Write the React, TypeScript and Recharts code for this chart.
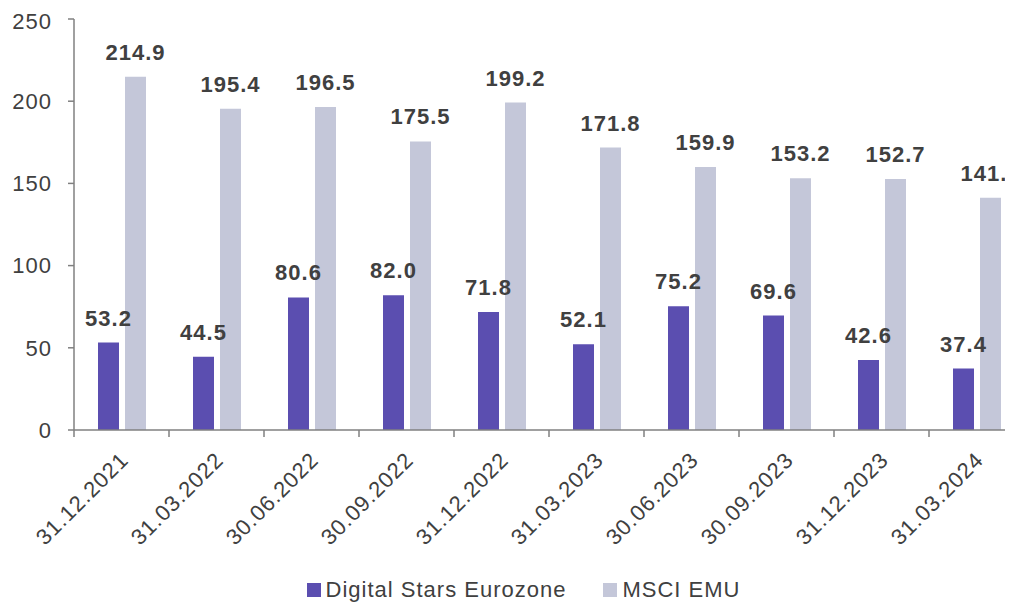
import React from 'react';
import { BarChart, Bar, XAxis, YAxis, Legend, LabelList } from 'recharts';

const dates = [
  '31.12.2021', '31.03.2022', '30.06.2022', '30.09.2022', '31.12.2022',
  '31.03.2023', '30.06.2023', '30.09.2023', '31.12.2023', '31.03.2024',
];
const digitalStars = [53.2, 44.5, 80.6, 82.0, 71.8, 52.1, 75.2, 69.6, 42.6, 37.4];
const msciEmu = [214.9, 195.4, 196.5, 175.5, 199.2, 171.8, 159.9, 153.2, 152.7, 141.2];
const yTicks = [0, 50, 100, 150, 200, 250];

const data = dates.map((date, i) => ({ date, digital: digitalStars[i], msci: msciEmu[i] }));

const CHART_W = 1040;
const CHART_H = 597;
const M_TOP = 11;
const M_RIGHT = 24;
const Y_W = 66;
const LEGEND_H = 40;
const X_H = 135;
const PLOT_BOTTOM = CHART_H - LEGEND_H - X_H;
const BAND = (CHART_W - M_RIGHT - Y_W) / dates.length;

const FONT = '"Liberation Sans", Arial, sans-serif';
const TEXT = '#404040';
const AXIS = '#808080';
const DARK = '#5B4EB0';
const LIGHT = '#C4C7D9';

const DateTick = (props: any) => {
  const { x, payload } = props;
  const left = x - BAND / 2;
  const ax = x - 3;
  const ay = PLOT_BOTTOM + 20;
  return (
    <g>
      <line x1={left} y1={PLOT_BOTTOM} x2={left} y2={PLOT_BOTTOM + 7} stroke={AXIS} strokeWidth={1.5} />
      <text
        x={ax}
        y={ay}
        textAnchor="end"
        dominantBaseline="hanging"
        transform={`rotate(-45 ${ax} ${ay})`}
        fill={TEXT}
        fontSize={22}
        letterSpacing={1}
        fontFamily={FONT}
      >
        {payload.value}
      </text>
    </g>
  );
};

const LegendContent = () => (
  <div
    style={{
      display: 'flex',
      justifyContent: 'center',
      alignItems: 'center',
      gap: 37,
      height: 30,
      paddingTop: 10,
      paddingLeft: 15,
      fontFamily: FONT,
      fontSize: 22,
      letterSpacing: 1,
      color: TEXT,
    }}
  >
    {[
      { name: 'Digital Stars Eurozone', color: DARK },
      { name: 'MSCI EMU', color: LIGHT },
    ].map((item) => (
      <div key={item.name} style={{ display: 'flex', alignItems: 'center' }}>
        <span style={{ display: 'inline-block', width: 14, height: 14, background: item.color, marginRight: 5 }} />
        {item.name}
      </div>
    ))}
  </div>
);

const labelStyle = { fill: TEXT, fontSize: 22, fontWeight: 'bold', fontFamily: FONT, letterSpacing: 1 };

const App = () => {
  return (
    <div style={{ width: 1005, height: CHART_H, overflow: 'hidden' }}>
      <BarChart
        width={CHART_W}
        height={CHART_H}
        data={data}
        margin={{ top: M_TOP, right: M_RIGHT, left: 0, bottom: 0 }}
        barSize={21}
        barGap={6}
      >
        <XAxis
          dataKey="date"
          height={X_H}
          axisLine={{ stroke: AXIS, strokeWidth: 1.5 }}
          tickLine={false}
          tick={<DateTick />}
          interval={0}
        />
        <YAxis
          width={Y_W}
          domain={[0, 250]}
          ticks={yTicks}
          axisLine={{ stroke: AXIS, strokeWidth: 1.5 }}
          tickLine={{ stroke: AXIS, strokeWidth: 1.5 }}
          tickSize={6}
          tickMargin={16}
          tick={{ fill: TEXT, fontSize: 22, fontFamily: FONT, letterSpacing: 1 }}
        />
        <Legend verticalAlign="bottom" height={LEGEND_H} content={<LegendContent />} />
        <Bar dataKey="digital" name="Digital Stars Eurozone" fill={DARK} isAnimationActive={false}>
          <LabelList
            dataKey="digital"
            position="top"
            offset={17}
            formatter={(v: any) => Number(v).toFixed(1)}
            style={labelStyle}
          />
        </Bar>
        <Bar dataKey="msci" name="MSCI EMU" fill={LIGHT} isAnimationActive={false}>
          <LabelList
            dataKey="msci"
            position="top"
            offset={17}
            formatter={(v: any) => Number(v).toFixed(1)}
            style={labelStyle}
          />
        </Bar>
      </BarChart>
    </div>
  );
};

export default App;
